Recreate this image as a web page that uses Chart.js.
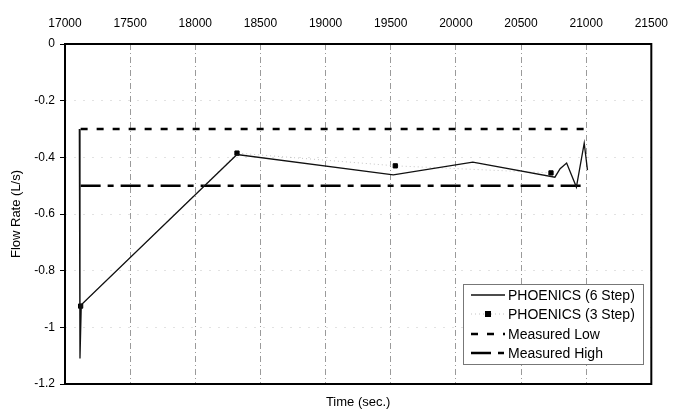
<!DOCTYPE html>
<html>
<head>
<meta charset="utf-8">
<script src="https://cdn.jsdelivr.net/npm/chart.js@4.4.0/dist/chart.umd.min.js"></script>
<style>
  html, body { margin: 0; padding: 0; background: #fff; }
</style>
</head>
<body>
<canvas id="chart" width="681" height="412"></canvas>
<script>
// data
const step6Time = [17110, 17115, 17125, 18320, 19520, 20130, 20760, 20800, 20850, 20925, 20985, 21010];
const step6Flow = [-0.30, -1.11, -0.92, -0.39, -0.462, -0.417, -0.47, -0.44, -0.42, -0.505, -0.35, -0.445];

const step3Time = [17120, 18320, 19535, 20730];
const step3Flow = [-0.925, -0.385, -0.43, -0.455];

const measTime = [17120, 21000];
const measLow = [-0.3, -0.3];
const measHigh = [-0.5, -0.5];

const xTicks = [17000, 17500, 18000, 18500, 19000, 19500, 20000, 20500, 21000, 21500];
const yTicks = [0, -0.2, -0.4, -0.6, -0.8, -1, -1.2];

const pts = (xs, ys) => xs.map((x, i) => ({ x: x, y: ys[i] }));
const FONT = "'Liberation Sans', Arial, sans-serif";

// legend drawn inside the plot, bottom right
const boxLegend = {
  id: "boxLegend",
  afterDatasetsDraw(chart) {
    const c = chart.ctx;
    const x0 = 463, y0 = 284, w = 180, h = 80;
    c.save();
    c.fillStyle = "#fff";
    c.fillRect(x0, y0, w, h);
    c.strokeStyle = "#777";
    c.lineWidth = 1;
    c.strokeRect(x0 + 0.5, y0 + 0.5, w, h);
    const rows = [295, 314, 334, 353];
    chart.data.datasets.forEach((ds, i) => {
      const y = rows[i];
      c.beginPath();
      c.setLineDash(ds.borderDash || []);
      c.strokeStyle = ds.borderColor;
      c.lineWidth = ds.borderWidth;
      c.moveTo(471, y);
      c.lineTo(505, y);
      c.stroke();
      c.setLineDash([]);
      if (ds.pointRadius > 0) {
        c.fillStyle = "#000";
        c.fillRect(485, y - 3, 6, 6);
      }
      c.fillStyle = "#000";
      c.font = "14px " + FONT;
      c.textBaseline = "middle";
      c.fillText(ds.label, 508, y + 1);
    });
    c.restore();
  }
};

// black frame round the plot area
const frame = {
  id: "frame",
  afterDatasetsDraw(chart) {
    const a = chart.chartArea, c = chart.ctx;
    c.save();
    c.strokeStyle = "#000";
    c.lineWidth = 2;
    c.strokeRect(a.left, a.top, a.right - a.left, a.bottom - a.top);
    c.restore();
  }
};

const ctx = document.getElementById("chart").getContext("2d");
new Chart(ctx, {
  type: "line",
  data: {
    datasets: [
      { label: "PHOENICS (6 Step)", data: pts(step6Time, step6Flow), borderColor: "#111", borderWidth: 1.3, pointRadius: 0, tension: 0 },
      { label: "PHOENICS (3 Step)", data: pts(step3Time, step3Flow), borderColor: "#c4c4c4", borderWidth: 1, borderDash: [1, 3],
        pointStyle: "rect", pointRadius: 3, pointBackgroundColor: "#000", pointBorderColor: "#000" },
      { label: "Measured Low", data: pts(measTime, measLow), borderColor: "#000", borderWidth: 2.5, borderDash: [7, 9], pointRadius: 0 },
      { label: "Measured High", data: pts(measTime, measHigh), borderColor: "#000", borderWidth: 2.5, borderDash: [20, 7, 6, 7], pointRadius: 0 }
    ]
  },
  options: {
    responsive: false,
    animation: false,
    layout: { padding: { left: 0, right: 23, top: 0, bottom: 0 } },
    plugins: { legend: { display: false }, tooltip: { enabled: false } },
    scales: {
      x: {
        type: "linear", position: "top", min: 17000, max: 21500,
        afterBuildTicks: s => { s.ticks = xTicks.map(v => ({ value: v })); },
        afterFit: s => { s.height = 44; },
        ticks: { padding: 13, color: "#000", font: { size: 12, family: FONT }, callback: v => String(v) },
        grid: { color: "#9a9a9a", lineWidth: 1, drawTicks: false },
        border: { display: false, dash: [6, 3, 1, 3] }
      },
      xb: {
        type: "linear", position: "bottom", min: 17000, max: 21500,
        afterFit: s => { s.height = 28; },
        ticks: { display: false },
        grid: { display: false },
        border: { display: false },
        title: { display: true, text: "Time (sec.)", color: "#000", font: { size: 13, family: FONT }, padding: { top: 0, bottom: 2 } }
      },
      y: {
        min: -1.2, max: 0,
        afterBuildTicks: s => { s.ticks = yTicks.map(v => ({ value: v })); },
        afterFit: s => { s.width = 65; },
        ticks: { padding: 5, color: "#000", font: { size: 12, family: FONT }, callback: v => String(Number(v.toFixed(1))) },
        grid: { color: "#e2e2e2", lineWidth: 1, tickLength: 5, tickColor: "#000" },
        border: { display: false, dash: [2, 7] },
        title: { display: true, text: "Flow Rate (L/s)", color: "#000", font: { size: 13, family: FONT }, padding: { top: 9, bottom: 0 } }
      }
    }
  },
  plugins: [frame, boxLegend]
});
</script>
</body>
</html>
